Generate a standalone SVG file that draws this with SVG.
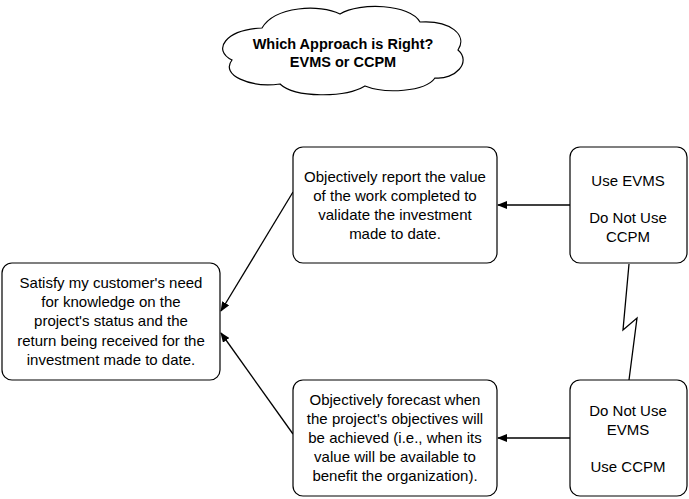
<svg xmlns="http://www.w3.org/2000/svg" width="689" height="499" viewBox="0 0 689 499">
<style>
.b{fill:#fff;stroke:#000;stroke-width:1.2}
.t{font-family:"Liberation Sans",Arial,sans-serif;font-size:15px;fill:#000;text-anchor:middle}
.h{font-weight:bold;font-size:14.5px}
.c{stroke:#000;stroke-width:1.3;fill:none}
</style>
<defs><marker id="a" markerWidth="10" markerHeight="8" refX="9" refY="4" orient="auto" markerUnits="userSpaceOnUse"><path d="M0,0 L10,4 L0,8 Z" fill="#000"/></marker></defs>
<rect width="689" height="499" fill="#fff"/>
<g id="cloud">
<path class="b" d="M262,28 C275,6 320,4 340,14 C360,2 410,4 420,22 C450,20 468,35 458,50 C472,62 455,80 435,78 C425,92 385,94 365,86 C345,98 295,98 280,84 C250,88 220,75 232,60 C212,50 225,30 262,28 Z"/>
<text class="t h" x="343" y="49">Which Approach is Right?</text>
<text class="t h" x="343" y="67">EVMS or CCPM</text>
</g>
<g id="connectors">
<line class="c" x1="570" y1="205" x2="498" y2="205" marker-end="url(#a)"/>
<line class="c" x1="570" y1="438" x2="498" y2="438" marker-end="url(#a)"/>
<line class="c" x1="293" y1="192" x2="221" y2="311" marker-end="url(#a)"/>
<line class="c" x1="293" y1="434" x2="221" y2="333" marker-end="url(#a)"/>
<polyline class="c" points="629,264 623,330 637,318 629,380"/>
</g>
<g id="goal"><rect class="b" x="2" y="263" width="218" height="117" rx="10"/>
<text class="t" x="111" y="288">Satisfy my customer's need</text>
<text class="t" x="111" y="307">for knowledge on the</text>
<text class="t" x="111" y="326">project's status and the</text>
<text class="t" x="111" y="346">return being received for the</text>
<text class="t" x="111" y="365">investment made to date.</text>
</g>
<g id="report"><rect class="b" x="293" y="147" width="204" height="116" rx="10"/>
<text class="t" x="395" y="182">Objectively report the value</text>
<text class="t" x="395" y="201">of the work completed to</text>
<text class="t" x="395" y="220">validate the investment</text>
<text class="t" x="395" y="239">made to date.</text>
</g>
<g id="forecast"><rect class="b" x="293" y="380" width="204" height="116" rx="10"/>
<text class="t" x="395" y="405">Objectively forecast when</text>
<text class="t" x="395" y="424">the project's objectives will</text>
<text class="t" x="395" y="443">be achieved (i.e., when its</text>
<text class="t" x="395" y="462">value will be available to</text>
<text class="t" x="395" y="481">benefit the organization).</text>
</g>
<g id="evms"><rect class="b" x="570" y="147" width="117" height="116" rx="10"/>
<text class="t" x="628" y="186">Use EVMS</text>
<text class="t" x="628" y="223">Do Not Use</text>
<text class="t" x="628" y="242">CCPM</text>
</g>
<g id="ccpm"><rect class="b" x="570" y="380" width="117" height="116" rx="10"/>
<text class="t" x="628" y="416">Do Not Use</text>
<text class="t" x="628" y="435">EVMS</text>
<text class="t" x="628" y="472">Use CCPM</text>
</g>
</svg>
